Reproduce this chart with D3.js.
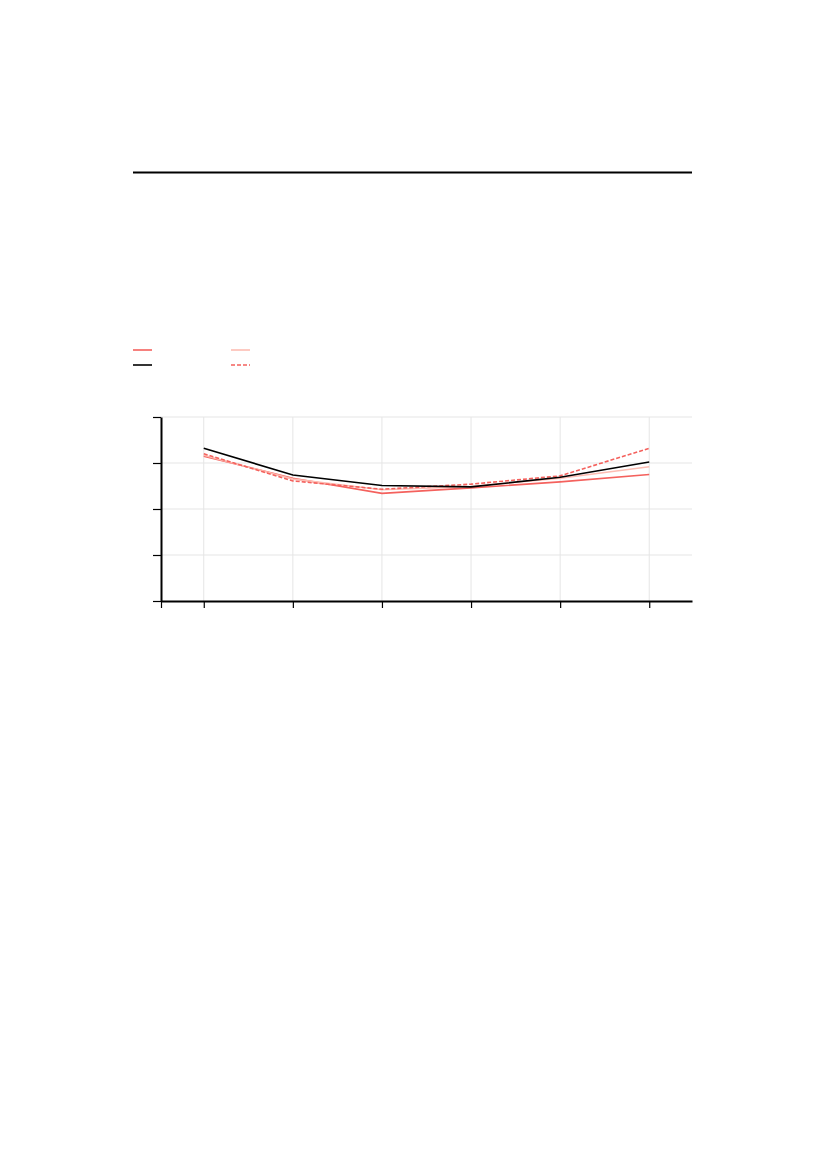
<!DOCTYPE html>
<html>
<head>
<meta charset="utf-8">
<script src="https://cdn.jsdelivr.net/npm/d3@7"></script>
<style>
  body { margin: 0; background: #fff; }
  svg { display: block; }
</style>
</head>
<body>
<div id="chart-container"></div>
<script>
// Chart values (grid units)
const periods = [1, 2, 3, 4, 5, 6];
const seriesBlack = [3.32, 2.74, 2.51, 2.48, 2.69, 3.02];
const seriesRed = [3.15, 2.67, 2.34, 2.46, 2.59, 2.75];
const seriesPink = [3.17, 2.65, 2.42, 2.49, 2.67, 2.92];
const seriesDashed = [3.20, 2.61, 2.43, 2.54, 2.72, 3.32];
const yTicks = [0, 1, 2, 3, 4];
const xTicks = [0.52, 1, 2, 3, 4, 5, 6];

const series = [
    { name: "red", values: seriesRed, color: "#f4615d", dash: null },
    { name: "pink", values: seriesPink, color: "#fdbdb3", dash: null },
    { name: "dashed", values: seriesDashed, color: "#f4615d", dash: "4,2" },
    { name: "black", values: seriesBlack, color: "#000000", dash: null }
];

const svg = d3.select("#chart-container")
    .append("svg")
    .attr("width", 827)
    .attr("height", 1169);

// Rule across the top of the page
svg.append("line")
    .attr("x1", 133).attr("x2", 692)
    .attr("y1", 172.5).attr("y2", 172.5)
    .attr("stroke", "#000")
    .attr("stroke-width", 2);

// Legend
const legend = svg.append("g");
const legendItems = [
    { s: series[0], x: 133, y: 350 },
    { s: series[1], x: 231, y: 350 },
    { s: series[3], x: 133, y: 365 },
    { s: series[2], x: 231, y: 365 }
];
legend.selectAll("line")
    .data(legendItems)
    .enter()
    .append("line")
    .attr("x1", d => d.x)
    .attr("x2", d => d.x + 19)
    .attr("y1", d => d.y)
    .attr("y2", d => d.y)
    .attr("stroke", d => d.s.color)
    .attr("stroke-width", 1.6)
    .attr("stroke-dasharray", d => d.s.dash);

// Plot area
const plotLeft = 161, plotRight = 692, plotTop = 417, plotBottom = 601;

const x = d3.scaleLinear()
    .domain([0.52, 6.48])
    .range([plotLeft, plotRight]);

const y = d3.scaleLinear()
    .domain([0, 4])
    .range([plotBottom, plotTop]);

// Grid lines
svg.append("g")
    .selectAll("line")
    .data(periods)
    .enter()
    .append("line")
    .attr("x1", d => x(d)).attr("x2", d => x(d))
    .attr("y1", plotTop).attr("y2", plotBottom)
    .attr("stroke", "#e5e5e5")
    .attr("stroke-width", 1);

svg.append("g")
    .selectAll("line")
    .data(yTicks.slice(1))
    .enter()
    .append("line")
    .attr("x1", plotLeft).attr("x2", plotRight)
    .attr("y1", d => y(d)).attr("y2", d => y(d))
    .attr("stroke", "#e5e5e5")
    .attr("stroke-width", 1);

// Lines
const line = d3.line()
    .x((d, i) => x(periods[i]))
    .y(d => y(d));

svg.append("g")
    .selectAll("path")
    .data(series)
    .enter()
    .append("path")
    .attr("d", d => line(d.values))
    .attr("fill", "none")
    .attr("stroke", d => d.color)
    .attr("stroke-width", 1.6)
    .attr("stroke-dasharray", d => d.dash);

// Axes (no labels in the picture)
const xAxis = svg.append("g")
    .attr("transform", `translate(0,${plotBottom})`)
    .call(d3.axisBottom(x).tickValues(xTicks).tickSize(7).tickSizeOuter(0).tickFormat(""));

const yAxis = svg.append("g")
    .attr("transform", `translate(${plotLeft},0)`)
    .call(d3.axisLeft(y).tickValues(yTicks).tickSize(8).tickSizeOuter(0).tickFormat(""));

[xAxis, yAxis].forEach(g => {
    g.select(".domain").attr("stroke-width", 2);
    g.selectAll(".tick line").attr("stroke-width", 1.2);
});
</script>
</body>
</html>
